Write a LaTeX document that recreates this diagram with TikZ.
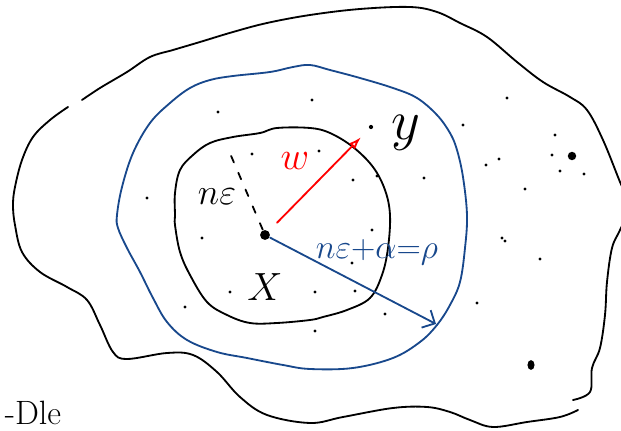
\RequirePackage{fix-cm}
\documentclass[tikz,border=0pt]{standalone}
\usetikzlibrary{arrows.meta,shapes.geometric}
\definecolor{inkblue}{RGB}{24,72,140}
\tikzset{
  every node/.style={
    inner sep=0pt
  },
  dot/.style={circle,fill=black,minimum size=2.4pt},
  bigdot/.style={circle,fill=black,minimum size=7pt},
  lbl/.style={font=\fontsize{24}{28}\selectfont}
}

\begin{document}
\begin{tikzpicture}[x=0.025cm,y=-0.025cm,line width=1.3pt,line cap=round,line join=round]
    \useasboundingbox (0,0) rectangle (621,431);
    \clip (0,0) rectangle (621,431);

    % outer region
    \draw[black] plot[smooth,tension=0.6] coordinates {
        (82,100) (100,88) (127,72) (150,57) (173,50) (200,42) (233,32)
        (267,23) (310,15) (360,9) (410,7) (437,12) (460,23) (487,37)
        (517,62) (543,82) (570,97) (587,110) (603,140) (620,182) (630,206)
        (620,230) (612,248) (607,282) (605,315) (600,348) (592,368)
        (590,392) (573,400)};
    \draw[black] plot[smooth,tension=0.6] coordinates {
        (578,410) (560,417) (527,422) (493,427) (470,420) (450,412)
        (427,407) (393,408) (343,417) (310,423) (267,415) (240,397)
        (217,372) (193,355) (167,353) (127,359) (113,352) (100,325)
        (87,300) (67,287) (40,272) (22,252) (15,225) (13,205) (15,187)
        (22,160) (33,137) (50,120) (68,107)};

    % blue ball
    \draw[inkblue] plot[smooth cycle,tension=0.6] coordinates {
        (117,215) (122,187) (133,153) (150,123) (170,103) (190,88)
        (210,80) (233,76) (270,72) (293,67) (310,65) (330,70) (360,78)
        (393,88) (417,98) (437,115) (450,133) (457,150) (463,177)
        (467,215) (465,248) (460,282) (450,305) (437,325) (420,342)
        (393,358) (353,368) (310,369) (283,365) (247,358) (217,352)
        (187,340) (167,322) (153,298) (140,272) (127,248) (118,228)};

    % inner ball
    \draw[black] plot[smooth cycle,tension=0.6] coordinates {
        (175,215) (175,193) (180,170) (193,155) (210,143) (233,137)
        (260,133) (277,128) (310,128) (330,133) (353,147) (373,167)
        (385,190) (390,215) (388,248) (382,275) (370,298) (347,310)
        (323,317) (310,320) (277,323) (250,323) (227,315) (207,302)
        (190,275) (180,252) (175,225)};

    % points
    \node[bigdot] (X) at (265,235) {};
    \node[dot,minimum size=3pt] (ypt) at (371,127) {};
    \node[bigdot,minimum size=6pt] (p1) at (572,156) {};
    \node[ellipse,fill=black,minimum width=5pt,minimum height=7pt] (p2) at (531,365) {};
    \coordinate (nend) at (229,151);
    \coordinate (rhoend) at (436,324);

    % scattered dots
    \foreach \px/\py [count=\i] in {218/112, 312/100, 463/125, 507/98,
        555/135, 319/151, 353/180, 377/176, 424/178, 486/165, 499/159,
        552/155, 560/171, 584/174, 525/189, 147/198, 202/238, 372/230,
        352/263, 315/292, 355/291, 230/292, 185/307, 385/314, 315/331,
        477/303, 502/238, 505/241, 540/259, 252/154}
        \node[dot] (d\i) at (\px,\py) {};

    % radii
    \draw[black,dash pattern=on 5pt off 8pt] (X) -- (nend);
    \draw[red,-{Latex[open,length=9pt,width=6pt]},shorten <=8pt,shorten >=8pt]
        (X) -- (ypt);
    \draw[inkblue,-{Straight Barb[length=7pt,width=14pt]}] (X) -- (rhoend);

    % labels
    \node[lbl,font=\fontsize{26}{30}\selectfont,anchor=base] (ne) at (217,205) {$n\varepsilon$};
    \node[lbl,red,font=\fontsize{28}{32}\selectfont,anchor=base] (wl) at (295,170) {$w$};
    \node[lbl,font=\fontsize{40}{44}\selectfont,anchor=base] (yl) at (406,140) {$y$};
    \node[lbl,font=\fontsize{28}{32}\selectfont] (Xl) at (265,287) {$X$};
    \node[lbl,inkblue,anchor=base] (rhol) at (377,259)
        {$n\varepsilon{+}\alpha{=}\rho$};
    \node[lbl,anchor=base west] (dle) at (4,425) {-Dle};
\end{tikzpicture}
\end{document}
